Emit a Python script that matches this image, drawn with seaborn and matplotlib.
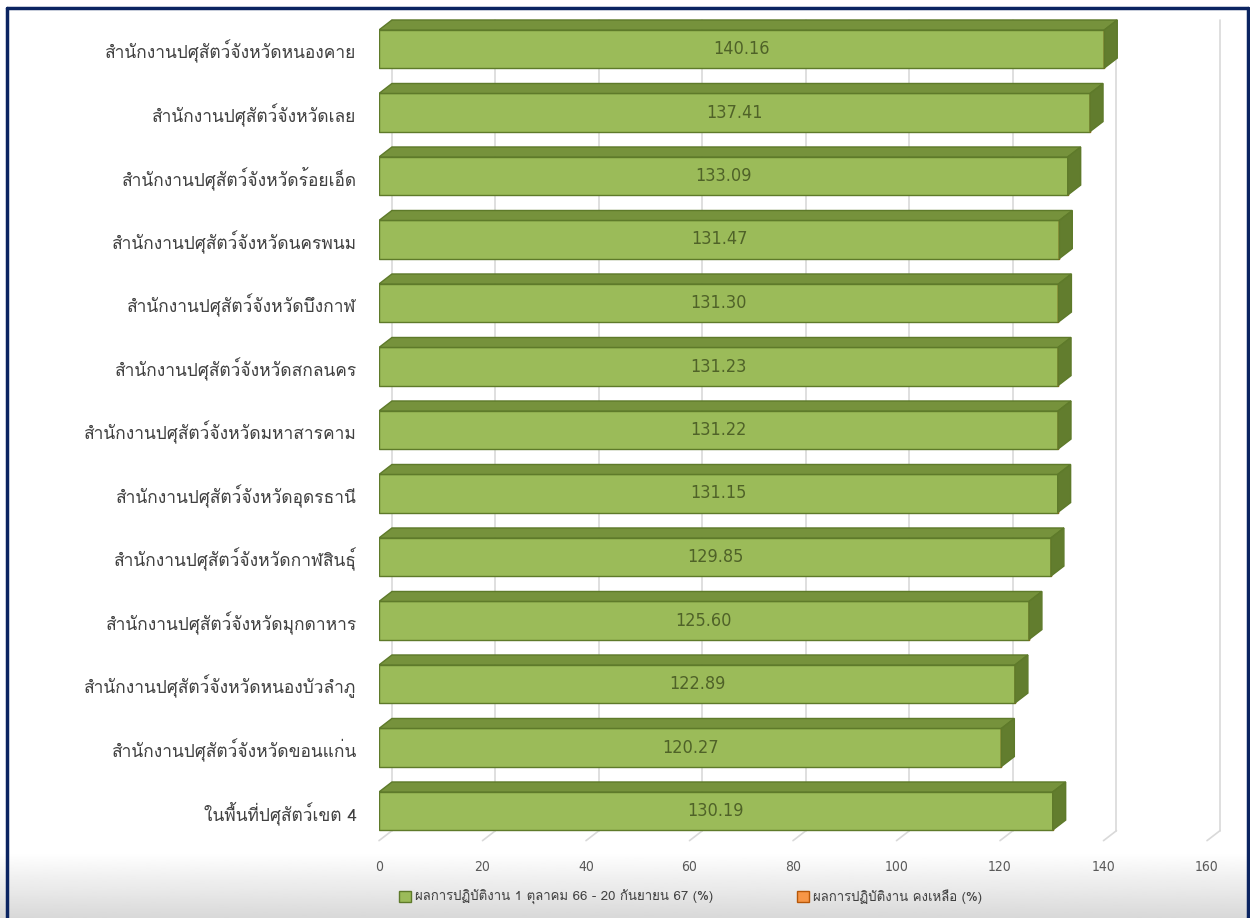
import matplotlib
matplotlib.use("Agg")
import matplotlib.pyplot as plt
import numpy as np
import pandas as pd
import seaborn as sns
from matplotlib import font_manager
from matplotlib.ft2font import FT2Font
from matplotlib.patches import Polygon, Patch
from matplotlib.lines import Line2D

# ---- data ----
categories = [
    "สำนักงานปศุสัตว์จังหวัดหนองคาย",
    "สำนักงานปศุสัตว์จังหวัดเลย",
    "สำนักงานปศุสัตว์จังหวัดร้อยเอ็ด",
    "สำนักงานปศุสัตว์จังหวัดนครพนม",
    "สำนักงานปศุสัตว์จังหวัดบึงกาฬ",
    "สำนักงานปศุสัตว์จังหวัดสกลนคร",
    "สำนักงานปศุสัตว์จังหวัดมหาสารคาม",
    "สำนักงานปศุสัตว์จังหวัดอุดรธานี",
    "สำนักงานปศุสัตว์จังหวัดกาฬสินธุ์",
    "สำนักงานปศุสัตว์จังหวัดมุกดาหาร",
    "สำนักงานปศุสัตว์จังหวัดหนองบัวลำภู",
    "สำนักงานปศุสัตว์จังหวัดขอนแก่น",
    "ในพื้นที่ปศุสัตว์เขต 4",
]
done_pct = [140.16, 137.41, 133.09, 131.47, 131.30, 131.23, 131.22,
            131.15, 129.85, 125.60, 122.89, 120.27, 130.19]
remain_pct = [0] * len(categories)
x_ticks = [0, 20, 40, 60, 80, 100, 120, 140, 160]
legend_labels = ["ผลการปฏิบัติงาน 1 ตุลาคม 66 - 20 กันยายน 67 (%)",
                 "ผลการปฏิบัติงาน คงเหลือ (%)"]

# ---- colours ----
C_FRONT = "#9BBB59"
C_TOP = "#76923C"
C_SIDE = "#627D2E"
C_EDGE = "#5E7A2A"
C_ORANGE = "#F79646"
C_LABEL = "#4F6228"
C_TEXT = "#404040"
C_GRID = "#D9D9D9"
C_BORDER = "#0B2461"


def thai_fonts():
    # fonts that actually carry Thai glyphs
    found = []
    for fe in font_manager.fontManager.ttflist:
        try:
            if 0x0E2A in FT2Font(fe.fname).get_charmap():
                if fe.name not in found:
                    found.append(fe.name)
        except Exception:
            pass
    return found


sns.set_theme(style="white")
th = thai_fonts()
TH_FONT = "Loma" if "Loma" in th else (th[0] if th else "DejaVu Sans")
plt.rcParams["font.family"] = [TH_FONT, "DejaVu Sans"]

df = pd.DataFrame({"cat": categories, "done": done_pct, "remain": remain_pct})

fig = plt.figure(figsize=(12.5, 9.18), dpi=100)
fig.patch.set_facecolor("white")

# bottom grey gradient
gax = fig.add_axes([0, 0, 1, 66 / 918], zorder=-5)
grad = np.linspace(1.0, 0.85, 64).reshape(-1, 1)
gax.imshow(grad, aspect="auto", cmap="gray", vmin=0, vmax=1,
           extent=[0, 1, 0, 1], origin="upper")
gax.axis("off")

ax = fig.add_axes([379 / 1250, 1 - 849.1 / 918, 828 / 1250, 838.2 / 918])
ax.patch.set_alpha(0)

sns.barplot(data=df, x="done", y="cat", orient="h", color=C_FRONT,
            saturation=1, width=0.6, edgecolor=C_EDGE, linewidth=1,
            ax=ax, zorder=3)
ax.barh(df["cat"], df["remain"], left=df["done"], height=0.6,
        color=C_ORANGE, edgecolor="#B65708", zorder=3)

DX, DY = 2.5, 0.157
YTOP, FLOOR = -0.6, 12.31

# back-wall grid + floor lines
for t in x_ticks:
    ax.plot([t + DX, t + DX], [YTOP + 0.14, FLOOR], color=C_GRID, lw=1.2,
            zorder=1, clip_on=False)
    ax.plot([t + DX, t], [FLOOR, FLOOR + DY], color=C_GRID, lw=1.2,
            zorder=1, clip_on=False)

# 3d faces
for p in list(ax.patches)[:len(categories)]:
    x0, y0, w, h = p.get_x(), p.get_y(), p.get_width(), p.get_height()
    top = Polygon([(x0, y0), (x0 + w, y0), (x0 + w + DX, y0 - DY), (x0 + DX, y0 - DY)],
                  closed=True, facecolor=C_TOP, edgecolor=C_EDGE, lw=1, zorder=3)
    side = Polygon([(x0 + w, y0), (x0 + w + DX, y0 - DY), (x0 + w + DX, y0 + h - DY),
                    (x0 + w, y0 + h)],
                   closed=True, facecolor=C_SIDE, edgecolor=C_EDGE, lw=1, zorder=3)
    ax.add_patch(top)
    ax.add_patch(side)

ax.bar_label(ax.containers[0], fmt="%.2f", label_type="center",
             color=C_LABEL, fontsize=13, family="DejaVu Sans",
             fontstretch="condensed")

ax.set_xlim(0, 160)
ax.set_ylim(12.6, -0.6)
ax.set_xticks(x_ticks)
ax.set_xticklabels([str(t) for t in x_ticks], color="#595959", fontsize=10,
                   family="DejaVu Sans", fontstretch="condensed")
ax.tick_params(axis="x", length=0, pad=8)
ax.tick_params(axis="y", length=0, pad=16, labelsize=12.5, labelcolor=C_TEXT)
ax.set_xlabel("")
ax.set_ylabel("")
for s in ax.spines.values():
    s.set_visible(False)

handles = [Patch(facecolor=C_FRONT, edgecolor=C_EDGE),
           Patch(facecolor=C_ORANGE, edgecolor="#B65708")]
fig.legend(handles, legend_labels, loc="center left",
           bbox_to_anchor=(387 / 1250, 1 - 897 / 918), ncol=2, frameon=False,
           fontsize=9.5, labelcolor=C_TEXT, handlelength=0.9, handleheight=0.9,
           handletextpad=0.3, columnspacing=6.4)

# navy frame (left, top, right)
fw = 2.5
fig.add_artist(Line2D([7 / 1250, 7 / 1250], [0, 1 - 8 / 918], color=C_BORDER, lw=fw))
fig.add_artist(Line2D([7 / 1250, 1248 / 1250], [1 - 8 / 918, 1 - 8 / 918], color=C_BORDER, lw=fw))
fig.add_artist(Line2D([1248 / 1250, 1248 / 1250], [0, 1 - 8 / 918], color=C_BORDER, lw=fw))

fig.savefig("out.png", dpi=100)
